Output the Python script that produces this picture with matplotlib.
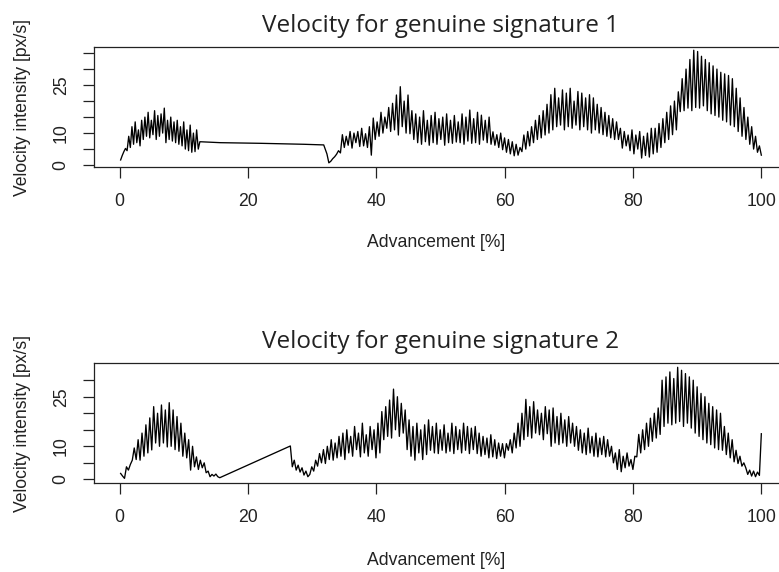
import numpy as np
import matplotlib
matplotlib.use("Agg")
import matplotlib.pyplot as plt
from matplotlib.ticker import FixedLocator, FixedFormatter

# signature 1: first stroke, pen-up gap, second stroke
vel1_a = [1.6, 3.0, 4.2, 5.2, 4.5, 9, 5.5, 12, 6.5, 13.5, 7, 11, 6, 14, 8, 15, 9,
          16.5, 8.5, 14, 9.5, 17, 8, 15.5, 9, 16, 10, 17.8, 7, 14, 8, 15, 7.5,
          13.5, 7, 14, 6.5, 12, 6, 13.5, 5, 11, 4.5, 12.5, 4, 10, 4.2, 11, 5, 7.3]
gap1_x = [13.5, 15.7, 22.0, 28.7, 31.8]
gap1_y = [7.2, 7.0, 6.8, 6.5, 6.3]
vel1_b = [3.5, 0.7, 1.2, 2.0, 2.6, 3.4, 4.5, 3.8,
          9.5, 5.5, 9.0, 6.2, 10.5, 5.3, 10, 7, 10.5, 5.8, 11.5, 6, 9.8, 5.5, 12,
          3.1, 14.7, 8, 13.5, 9, 16.5, 10, 15, 11.5, 18, 10.5, 19.3,
          11, 21.9, 9.4, 24.5, 12, 20, 10, 21.9, 9.8, 17,
          8, 16, 7, 15, 6.5, 17, 7.3, 14, 6.2, 15.5, 7, 16.5, 6.5, 14.5, 8, 15,
          6.2, 16, 7, 14, 6.8, 15.5, 7.2, 13.5,
          7, 16, 6.5, 15, 7.5, 17.2, 6.8, 14.5, 7, 16.5, 6.5, 15.6, 7.8, 14, 7, 15, 6.5,
          10.4, 6.2, 9.5, 5.5, 10, 4.8, 8.5, 4, 8, 3.5, 7.3, 2.9, 6.5, 3.1, 5.5,
          4.2, 9.4, 5, 10.5, 6, 12, 7, 14, 8, 15.5, 8.5, 17, 9.4, 19, 10,
          22, 11, 24, 12, 21, 12.5, 23.5, 11, 22.5, 12, 24, 11.5, 20, 12.5, 23, 11,
          22.5, 12, 21, 11, 22,
          10, 21, 11, 19, 10, 18, 9.5, 16.5, 9, 15.5, 8.5, 14.5, 8, 13.5, 8,
          11.5, 5.3, 10.5, 6, 9.4, 4.5, 11, 3.5, 9.4, 5, 10.5, 2.2, 9, 3, 10, 2.5, 11.5, 3.5,
          11.5, 4, 13, 5.5, 14.5, 7, 16.5, 8, 18.5, 9.5, 20, 11, 22.9,
          16.7, 27, 17, 30, 17.8, 33, 17, 35.9, 18, 35.5,
          17.8, 34, 18.5, 33, 17, 32, 16, 31, 15.5, 30, 15, 29, 14, 28.5, 13.5, 28,
          12.5, 27, 12, 24, 10.5, 21, 9, 18, 8, 15, 6.5, 12, 5, 9, 4, 6, 3.1]

# signature 2
vel2_a = [1.8, 1.0, 0.3, 3.8, 2.8, 4.5, 5.8, 9.5,
          6, 12, 5.8, 14, 7, 16.5, 8, 18.6,
          8.9, 22, 11, 20, 10, 22.5, 11, 21, 9.8, 23.2,
          10, 21, 9, 19, 8.5, 17, 7, 14, 6.5, 12,
          2.8, 10, 3.8, 6.8, 3, 5.8, 3.5, 5,
          2, 2.5, 0.8, 1.5, 1.0, 1.6, 0.8, 0.5]
vel2_b = [10.1, 3.8, 5.8, 2.8, 4.3, 2.2, 3.5, 1.3, 2.5, 0.8, 1.5, 3.8, 2.5, 5.8, 4,
          7.8, 5, 9, 4.8, 10, 6,
          12, 5.8, 11, 6.5, 13, 7, 14, 6, 15, 8, 13, 7, 16, 9, 14, 6.8, 17, 8, 13.5,
          7, 16, 9, 15, 6.5, 17, 8,
          20.5, 12, 22, 13, 24, 12.5, 27.3, 15, 25, 13, 23, 14, 21,
          9, 18, 7, 16, 5.8, 17, 8, 15, 6, 16.5, 7.5, 18, 8.8,
          16, 8, 17, 7.8, 15, 8.8, 16.5, 8, 14, 8.5, 17, 7.8, 16, 9, 15, 8, 17, 8.8,
          16, 7.8, 15.5, 9, 16,
          7.8, 14, 7, 13, 7.5, 12.5, 6.5, 13.5, 6.8, 12, 6.3, 11, 7, 10.8, 6.5,
          10.8, 8.8, 12, 8, 14, 9.5, 17, 10, 20, 12, 24.2, 13, 22, 12.5, 23.5, 14, 21,
          13.5, 20, 12, 22, 13.8, 21,
          10, 21.6, 11, 19, 10.5, 20, 11, 18, 10, 19, 11, 17, 10,
          16, 8.8, 15, 8, 14, 7.5, 15.5, 8, 13, 7, 14, 6.8, 12.5, 7.5, 13, 6.8, 12, 7,
          10, 5, 8, 3, 9, 2.3, 7, 3.5, 8, 4, 6, 3, 7,
          6.8, 13.6, 8, 15, 9, 17, 10, 18.5, 11.5, 20, 12.5, 21.6, 13.6,
          30, 16, 31, 17, 32.5, 16.5, 30.5, 17, 33.9, 17.5, 33, 16, 32, 17, 31, 15.5,
          30, 14, 28, 13, 26, 12, 25, 11, 23, 10.5, 22, 9.5, 21, 9, 20,
          8.8, 16, 7.5, 14, 6.5, 12, 5.3, 8.8,
          4.8, 7, 4, 5, 3.5,
          1.5, 2.8, 1.0, 2.5, 0.8, 2.2, 1.2]
end2_x = [99.85, 100.0]
end2_y = [7.3, 13.8]

adv1 = np.concatenate([np.linspace(0.15, 12.5, len(vel1_a)), gap1_x,
                       np.linspace(32.3, 100.0, len(vel1_b))])
v1 = np.concatenate([vel1_a, gap1_y, vel1_b])
adv2 = np.concatenate([np.linspace(0.15, 15.6, len(vel2_a)),
                       np.linspace(26.6, 99.7, len(vel2_b)), end2_x])
v2 = np.concatenate([vel2_a, vel2_b, end2_y])

titles = ["Velocity for genuine signature 1", "Velocity for genuine signature 2"]
xticks = [0, 20, 40, 60, 80, 100]
yticks_1 = [0, 5, 10, 15, 20, 25, 30, 35]
yticks_2 = [0, 5, 10, 15, 20, 25, 30]
ylabels_shown = {0: "0", 10: "10", 25: "25"}

W, H = 779, 572
fig = plt.figure(figsize=(W / 100, H / 100), dpi=100)

lab_font = dict(family=["Liberation Sans", "DejaVu Sans"], size=12.7)


def panel(top_px, x, y, title, yticks, ylim, xlab_y):
    ax = fig.add_axes([94 / W, (H - top_px - 120) / H, 693 / W, 120 / H])
    ax.plot(x, y, color="black", lw=0.95)
    ax.set_xlim(-4, 104)
    ax.set_ylim(*ylim)
    for s in ax.spines.values():
        s.set_linewidth(0.9)
        s.set_color("#222222")
    ax.xaxis.set_major_locator(FixedLocator(xticks))
    ax.yaxis.set_major_locator(FixedLocator(yticks))
    ax.yaxis.set_major_formatter(FixedFormatter([ylabels_shown.get(t, "") for t in yticks]))
    ax.tick_params(direction="out", length=8, width=0.9, color="#222222",
                   labelsize=12.7, labelcolor="#222222")
    ax.tick_params(axis="x", pad=10.5)
    ax.tick_params(axis="y", pad=9.5, labelrotation=90)
    for lab in ax.get_xticklabels() + ax.get_yticklabels():
        lab.set_family(["Liberation Sans", "DejaVu Sans"])
    for lab in ax.get_yticklabels():
        lab.set_va("center")
    ax.set_title(title, family=["Open Sans", "DejaVu Sans"], fontsize=17.5,
                 color="#222222", pad=10.5)
    ax.set_xlabel("Advancement [%]", va="center", color="#222222", **lab_font)
    ax.xaxis.set_label_coords(0.494, xlab_y)
    ax.set_ylabel("Velocity intensity [px/s]", va="center", color="#222222", **lab_font)
    ax.yaxis.set_label_coords(-0.1025, 0.5)
    return ax


panel(47, adv1, v1, titles[0], yticks_1, (-0.6, 36.9), -0.633)
panel(363, adv2, v2, titles[1], yticks_2, (-1.1, 35.2), -0.642)

fig.savefig("out.png", dpi=100, facecolor="white")
